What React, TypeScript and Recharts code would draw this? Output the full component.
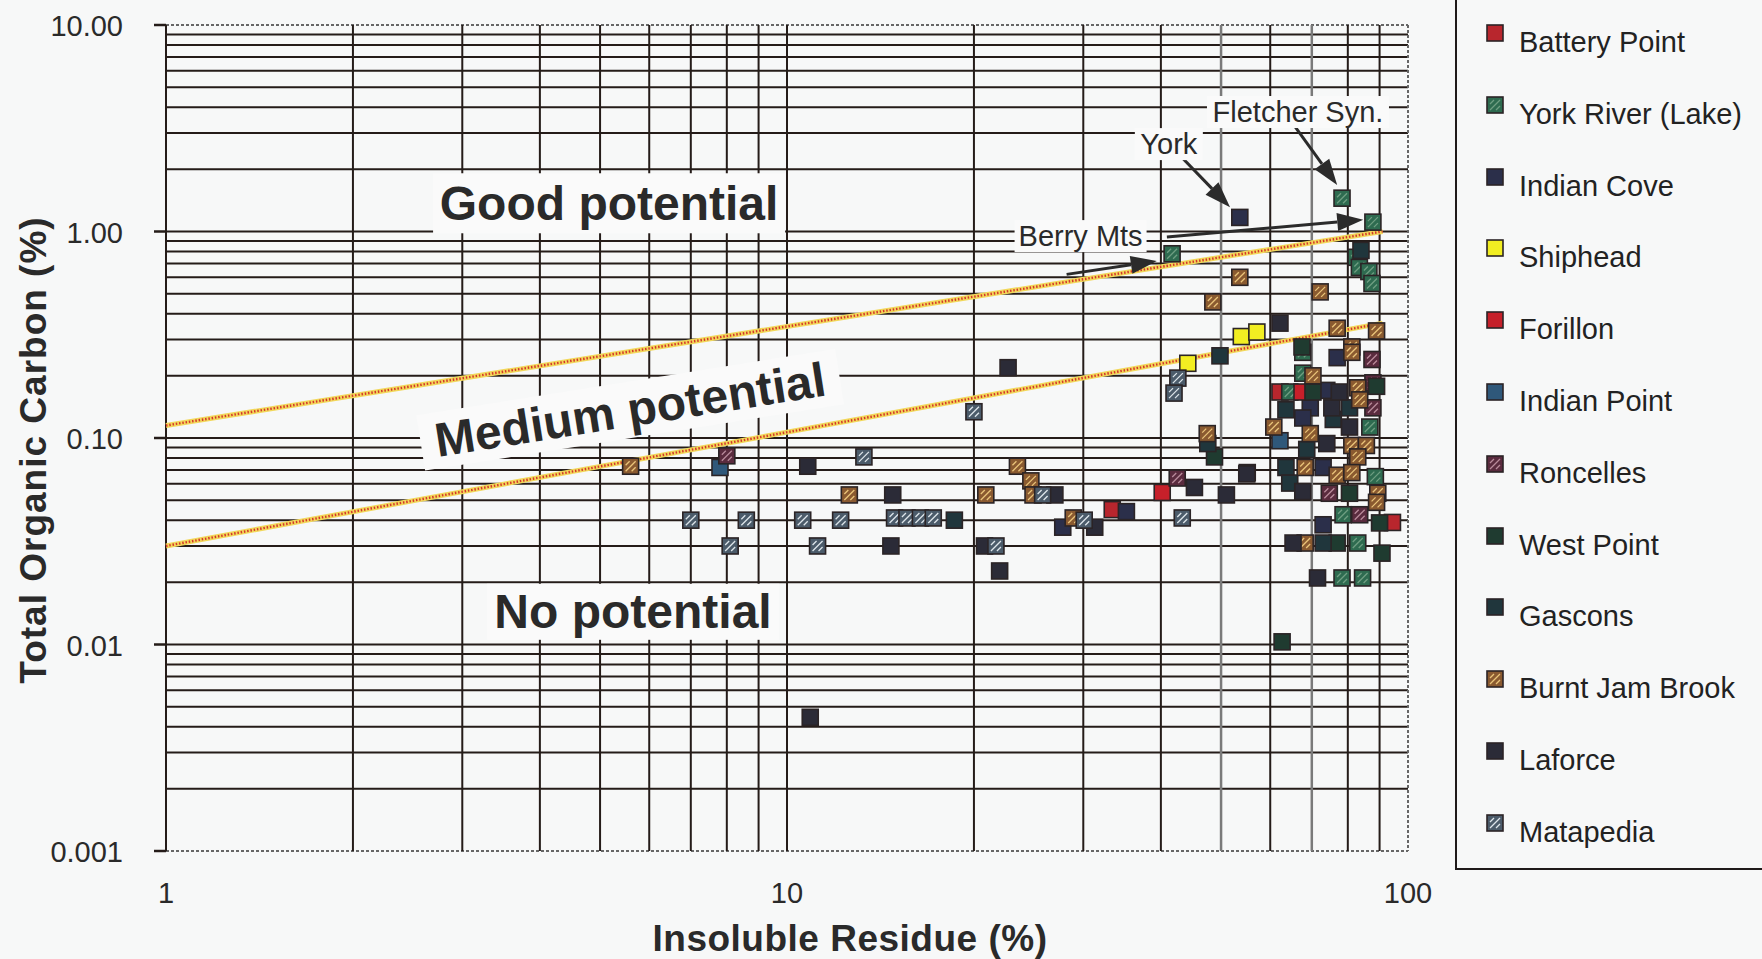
import { ScatterChart, Scatter, XAxis, YAxis, CartesianGrid, ReferenceLine, ReferenceDot, Legend } from 'recharts';

type Pt = { x: number; y: number };
const toPts = (rows: number[][]): Pt[] => rows.map(([x, y]) => ({ x, y }));

// insoluble residue (%) vs total organic carbon (%)
const batteryPoint = toPts([[33.4, 0.045], [62.2, 0.167], [94.4, 0.039]]);
const yorkRiver = toPts([
  [41.7, 0.78], [78.3, 1.45], [87.8, 1.11], [82.5, 0.75], [83.5, 0.67], [86.5, 0.64], [87.5, 0.56],
  [64.5, 0.167], [67.7, 0.26], [67.7, 0.206], [86.8, 0.113], [88.6, 0.065], [78.6, 0.0425],
  [83, 0.031], [78.3, 0.021], [84.5, 0.021],
]);
const indianCove = toPts([
  [53.6, 1.17], [27.8, 0.037], [35.2, 0.044], [76.9, 0.245], [74, 0.17], [69.6, 0.14],
  [67.7, 0.125], [73, 0.072], [73, 0.038],
]);
const shiphead = toPts([[44.2, 0.23], [53.9, 0.31], [57.1, 0.326]]);
const forillon = toPts([[40.2, 0.0545], [67.5, 0.167]]);
const indianPoint = toPts([[7.8, 0.072], [62.2, 0.097]]);
const roncelles = toPts([
  [8.0, 0.082], [42.5, 0.064], [87.5, 0.24], [87.8, 0.185], [87.8, 0.14], [74.7, 0.054], [83.6, 0.0425],
]);
const westPoint = toPts([
  [48.8, 0.081], [55.1, 0.068], [62.7, 0.0103], [67.5, 0.276], [70.3, 0.167], [89, 0.178],
  [80.5, 0.054], [90, 0.0388], [76.9, 0.031], [90.8, 0.0277],
]);
const gascons = toPts([
  [18.6, 0.04], [47.6, 0.094], [49.8, 0.25], [84, 0.81], [63.6, 0.137], [80.5, 0.14], [75.8, 0.123],
  [68.7, 0.088], [63.6, 0.072], [64.5, 0.0605], [73, 0.031],
]);
const burntJamBrook = toPts([
  [5.6, 0.073], [12.6, 0.053], [20.9, 0.053], [23.5, 0.073], [24.7, 0.062], [24.9, 0.053], [28.9, 0.041],
  [47.5, 0.105], [48.5, 0.456], [53.6, 0.6], [72.2, 0.51], [76.9, 0.34], [81.2, 0.276], [89, 0.33],
  [70.3, 0.2], [83, 0.175], [83.6, 0.153], [60.8, 0.113], [69.6, 0.105], [81.2, 0.092], [85.7, 0.092],
  [83, 0.081], [68.3, 0.072], [76.9, 0.066], [81.2, 0.068], [89.4, 0.054], [89, 0.0488], [68.3, 0.031],
  [81.2, 0.26],
]);
const laforce = toPts([
  [10.8, 0.073], [14.7, 0.03], [14.8, 0.053], [20.8, 0.03], [22.0, 0.0227], [22.7, 0.219], [27.0, 0.053],
  [31.3, 0.037], [45.3, 0.0576], [51, 0.053], [55, 0.067], [62.2, 0.36], [10.9, 0.00444], [75.4, 0.14],
  [80.5, 0.113], [74, 0.094], [67.7, 0.055], [65.3, 0.031], [71.5, 0.021], [77.5, 0.167],
]);
const matapedia = toPts([
  [7.0, 0.04], [8.1, 0.03], [8.6, 0.04], [10.6, 0.04], [11.2, 0.03], [12.2, 0.04], [13.3, 0.081],
  [14.9, 0.041], [15.6, 0.041], [16.4, 0.041], [17.2, 0.041], [20, 0.134], [21.7, 0.03], [25.8, 0.053],
  [30.1, 0.04], [42.6, 0.195], [42, 0.165], [43.3, 0.041],
]);

// potential boundaries (straight in log-log)
const goodBoundary = toPts([[1, 0.115], [91, 1.0]]);
const mediumBoundary = toPts([[1, 0.03], [91, 0.36]]);

const xTicks = [1, 2, 3, 4, 5, 6, 7, 8, 9, 10, 20, 30, 40, 50, 60, 70, 80, 90, 100];
const yTicks = [
  0.001, 0.002, 0.003, 0.004, 0.005, 0.006, 0.007, 0.008, 0.009,
  0.01, 0.02, 0.03, 0.04, 0.05, 0.06, 0.07, 0.08, 0.09,
  0.1, 0.2, 0.3, 0.4, 0.5, 0.6, 0.7, 0.8, 0.9,
  1, 2, 3, 4, 5, 6, 7, 8, 9, 10,
];
const xLabels: Record<string, string> = { '1': '1', '10': '10', '100': '100' };
const yLabels: Record<string, string> = { '0.001': '0.001', '0.01': '0.01', '0.1': '0.10', '1': '1.00', '10': '10.00' };

const FONT = '"Liberation Sans", Arial, sans-serif';
const GRID = '#251c19';
const INK = '#2a2a2a';

const series = [
  { name: 'Battery Point', data: batteryPoint, fill: '#b8262d' },
  { name: 'York River (Lake)', data: yorkRiver, fill: '#2e6b50', hatch: '#6f9e82' },
  { name: 'Indian Cove', data: indianCove, fill: '#2b2f4a' },
  { name: 'Shiphead', data: shiphead, fill: '#f2ee22' },
  { name: 'Forillon', data: forillon, fill: '#c6202a' },
  { name: 'Indian Point', data: indianPoint, fill: '#2f587a' },
  { name: 'Roncelles', data: roncelles, fill: '#5a2b3e', hatch: '#b88a9a' },
  { name: 'West Point', data: westPoint, fill: '#1f3b30' },
  { name: 'Gascons', data: gascons, fill: '#20363c' },
  { name: 'Burnt Jam Brook', data: burntJamBrook, fill: '#8a5a30', hatch: '#eac47a' },
  { name: 'Laforce', data: laforce, fill: '#2b2b37' },
  { name: 'Matapedia', data: matapedia, fill: '#4b5b6a', hatch: '#dde5ea' },
];

const square = (fill: string, hatch?: string) => (props: any) => {
  const { cx, cy } = props;
  if (cx == null || cy == null) return null;
  const s = 16;
  return (
    <g>
      <rect x={cx - s / 2} y={cy - s / 2} width={s} height={s} fill={fill} stroke="#2b2426" strokeWidth={1.6} />
      {hatch && (
        <path
          d={`M${cx - 5} ${cy + 5}L${cx + 5} ${cy - 5}M${cx - 5} ${cy - 1}L${cx - 1} ${cy - 5}M${cx + 1} ${cy + 5}L${cx + 5} ${cy + 1}`}
          stroke={hatch}
          strokeWidth={1.3}
        />
      )}
    </g>
  );
};

const hLine = (p: any) => {
  const edge = Math.abs(p.y1 - p.y) < 1 || Math.abs(p.y1 - (p.y + p.height)) < 1;
  return (
    <line key={p.key} x1={p.x1} x2={p.x2} y1={p.y1} y2={p.y2}
      stroke={edge ? '#666' : GRID} strokeWidth={2} strokeDasharray={edge ? '3 2' : undefined} />
  );
};

const vLine = (p: any) => {
  const right = Math.abs(p.x1 - (p.x + p.width)) < 1;
  const gray = p.index === 13 || p.index === 15;
  return (
    <line key={p.key} x1={p.x1} x2={p.x2} y1={p.y1} y2={p.y2}
      stroke={right ? '#666' : gray ? '#7a7a7a' : GRID}
      strokeWidth={gray ? 2.5 : 2} strokeDasharray={right ? '3 2' : undefined} />
  );
};

const YTick = (props: any) => {
  const { x, y, payload } = props;
  const label = yLabels[String(payload.value)];
  if (!label) return null;
  return (
    <g>
      <line x1={x - 12} x2={x} y1={y} y2={y} stroke={GRID} strokeWidth={2.5} />
      <text x={x - 43} y={y + 11} textAnchor="end" fontSize={29} fill={INK} fontFamily={FONT}>{label}</text>
    </g>
  );
};

const XTick = (props: any) => {
  const { x, y, payload } = props;
  const label = xLabels[String(payload.value)];
  if (!label) return null;
  return (
    <text x={x} y={y + 52} textAnchor="middle" fontSize={29} fill={INK} fontFamily={FONT}>{label}</text>
  );
};

const xTitle = (props: any) => {
  const vb = props.viewBox;
  return (
    <text x={vb.x + vb.width / 2 + 63} y={vb.y + 100} textAnchor="middle" fontSize={37} fontWeight="bold"
      letterSpacing={0.5} fill={INK} fontFamily={FONT}>Insoluble Residue (%)</text>
  );
};

const yTitle = (props: any) => {
  const vb = props.viewBox;
  const cx = 33;
  const cy = vb.y + vb.height / 2 + 12;
  return (
    <text x={cx} y={cy} transform={`rotate(-90 ${cx} ${cy})`} textAnchor="middle" dominantBaseline="central"
      fontSize={37} fontWeight="bold" letterSpacing={1} fill={INK} fontFamily={FONT}>Total Organic Carbon (%)</text>
  );
};

const HatchLine = (p: any) => (
  <g>
    <line x1={p.x1} y1={p.y1} x2={p.x2} y2={p.y2} stroke="#f2d85a" strokeWidth={5} />
    <line x1={p.x1} y1={p.y1} x2={p.x2} y2={p.y2} stroke="#d4372c" strokeWidth={2.4} strokeDasharray="1.5 1.8" />
  </g>
);

const Arrow = (p: any) => {
  const { x1, y1, x2, y2 } = p;
  const a = Math.atan2(y2 - y1, x2 - x1);
  const L = 26;
  const W = 9;
  const bx = x2 - L * Math.cos(a);
  const by = y2 - L * Math.sin(a);
  const pts = `${x2},${y2} ${bx + W * Math.sin(a)},${by - W * Math.cos(a)} ${bx - W * Math.sin(a)},${by + W * Math.cos(a)}`;
  return (
    <g>
      <line x1={x1} y1={y1} x2={bx} y2={by} stroke="#2b2b2b" strokeWidth={3} />
      <polygon points={pts} fill="#2b2b2b" />
    </g>
  );
};

const tag = (text: string, size: number, bold: boolean, w: number, h: number, angle = 0) => (p: any) => (
  <g transform={`rotate(${angle} ${p.cx} ${p.cy})`}>
    <rect x={p.cx - w / 2} y={p.cy - h / 2} width={w} height={h} fill="#fafafa" />
    <text x={p.cx} y={p.cy} textAnchor="middle" dominantBaseline="central" fontSize={size}
      fontWeight={bold ? 'bold' : 'normal'} fill={INK} fontFamily={FONT}>{text}</text>
  </g>
);

const zoneTags = [
  { x: 5.17, y: 1.37, shape: tag('Good potential', 48, true, 352, 60) },
  { x: 5.59, y: 0.137, shape: tag('Medium potential', 48, true, 424, 56, -9) },
  { x: 5.65, y: 0.0144, shape: tag('No potential', 48, true, 292, 56) },
  { x: 29.7, y: 0.95, shape: tag('Berry Mts', 29, false, 132, 32) },
  { x: 41.2, y: 2.65, shape: tag('York', 29, false, 68, 32) },
  { x: 66.5, y: 3.79, shape: tag('Fletcher Syn.', 29, false, 182, 32) },
];

const arrows = [
  toPts([[42.9, 2.34], [51.7, 1.31]]),
  toPts([[64.6, 3.47], [76.9, 1.68]]),
  toPts([[28.2, 0.62], [39.4, 0.72]]),
  toPts([[40.9, 0.94], [84.7, 1.14]]),
];

const renderLegend = () => (
  <div style={{
    position: 'absolute', left: 1455, top: -10, width: 330, height: 880, boxSizing: 'border-box',
    borderLeft: '2px solid #1f1a1a', borderBottom: '2px solid #1f1a1a', fontFamily: FONT,
  }}>
    {series.map((s, i) => (
      <div key={s.name} style={{ position: 'absolute', left: 0, top: 52 + i * 71.8 - 20, height: 40, width: 320 }}>
        <svg width={20} height={20} style={{ position: 'absolute', left: 28, top: 1 }}>
          {square(s.fill, s.hatch)({ cx: 10, cy: 10 })}
        </svg>
        <span style={{ position: 'absolute', left: 62, top: 0, lineHeight: '40px', fontSize: 29, color: '#222', whiteSpace: 'nowrap' }}>
          {s.name}
        </span>
      </div>
    ))}
  </div>
);

export default function App() {
  return (
    <div style={{ position: 'absolute', left: 0, top: 0, width: 1762, height: 959, background: '#f7f8f8', overflow: 'hidden' }}>
      <ScatterChart width={1762} height={959} margin={{ top: 25, right: 354, bottom: 48, left: 46 }}>
        <CartesianGrid horizontal={hLine} vertical={vLine} />
        <XAxis type="number" dataKey="x" scale="log" domain={[1, 100]} allowDataOverflow ticks={xTicks}
          interval={0} tick={XTick} tickLine={false} axisLine={false} tickSize={0} tickMargin={0} height={60}
          label={xTitle} />
        <YAxis type="number" dataKey="y" scale="log" domain={[0.001, 10]} allowDataOverflow ticks={yTicks}
          interval={0} tick={YTick} tickLine={false} axisLine={false} tickSize={0} tickMargin={0} width={120}
          label={yTitle} />
        <ReferenceLine segment={goodBoundary} shape={HatchLine} ifOverflow="visible" />
        <ReferenceLine segment={mediumBoundary} shape={HatchLine} ifOverflow="visible" />
        {arrows.map((seg, i) => (
          <ReferenceLine key={`arrow-${i}`} segment={seg} shape={Arrow} ifOverflow="visible" />
        ))}
        {zoneTags.map((t, i) => (
          <ReferenceDot key={`tag-${i}`} x={t.x} y={t.y} r={0} shape={t.shape} ifOverflow="visible" />
        ))}
        {series.map((s) => (
          <Scatter key={s.name} name={s.name} data={s.data} fill={s.fill}
            shape={square(s.fill, s.hatch)} isAnimationActive={false} />
        ))}
        <Legend content={renderLegend} wrapperStyle={{ position: 'absolute', left: 0, top: 0, width: 0, height: 0 }} />
      </ScatterChart>
    </div>
  );
}
